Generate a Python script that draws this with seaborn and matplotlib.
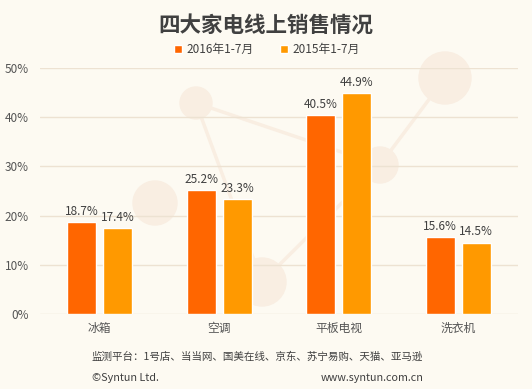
import matplotlib
matplotlib.use('Agg')
import matplotlib.pyplot as plt
import seaborn as sns
import pandas as pd
from matplotlib.patches import Circle
from matplotlib.lines import Line2D

# 数据
categories = ['冰箱', '空调', '平板电视', '洗衣机']
sales_2016 = [18.7, 25.2, 40.5, 15.6]
sales_2015 = [17.4, 23.3, 44.9, 14.5]
series = ['2016年1-7月', '2015年1-7月']
y_ticks = [0, 10, 20, 30, 40, 50]

df = pd.DataFrame({
    'cat': categories * 2,
    'val': sales_2016 + sales_2015,
    'year': [series[0]] * 4 + [series[1]] * 4,
})

sns.set_style('white')
plt.rcParams['font.family'] = ['Noto Sans CJK SC', 'DejaVu Sans']

bg = '#FDFAF2'
fig = plt.figure(figsize=(5.32, 3.89), dpi=100, facecolor=bg)

# 背景装饰（淡色圆点和连线），单位为像素 -> 英寸
deco = '#F9EEE2'
W, H = 532, 389
pts = [(196, 103, 16), (155, 203, 22), (262, 282, 24), (380, 165, 18), (445, 78, 26)]
for a, b in [(0, 3), (0, 2), (2, 3), (3, 4)]:
    x1, y1, _ = pts[a]
    x2, y2, _ = pts[b]
    fig.add_artist(Line2D([x1 / 100, x2 / 100], [(H - y1) / 100, (H - y2) / 100],
                          color=deco, lw=2.5, zorder=0, transform=fig.dpi_scale_trans))
for x, y, r in pts:
    fig.add_artist(Circle((x / 100, (H - y) / 100), r / 100, color=deco, zorder=0,
                          transform=fig.dpi_scale_trans))

ax = fig.add_axes([40 / W, 1 - 314 / H, 478 / W, 246 / H])
ax.set_facecolor('none')

sns.barplot(data=df, x='cat', y='val', hue='year', order=categories,
            hue_order=series, palette=['#FF6600', '#FF9900'],
            width=0.6, gap=0.19, ax=ax, saturation=1, zorder=3)

for c in ax.containers:
    ax.bar_label(c, labels=[f'{v:.1f}%' for v in c.datavalues], padding=3,
                 fontsize=8.5, color='#404040')

ax.set_ylim(0, 50)
ax.set_yticks(y_ticks)
ax.set_yticklabels([f'{t}%' for t in y_ticks])
ax.yaxis.grid(True, color='#EDE2D2', lw=1, zorder=0)
ax.set_axisbelow(True)
for s in ax.spines.values():
    s.set_visible(False)
ax.tick_params(length=0, labelsize=8.5, colors='#555555')
ax.tick_params(axis='y', pad=8)
ax.tick_params(axis='x', pad=6)
ax.set_xlabel('')
ax.set_ylabel('')

ax.legend(loc='center', bbox_to_anchor=(0.475, 1.075), ncol=2, frameon=False,
          fontsize=8.5, handlelength=0.7, handleheight=0.7, handletextpad=0.4,
          columnspacing=2.2, labelcolor='#404040')

fig.text(0.5, 1 - 25 / H, '四大家电线上销售情况', ha='center', va='center',
         fontsize=15.5, fontweight='bold', color='#404040')
fig.text(92 / W, 1 - 357 / H, '监测平台：1号店、当当网、国美在线、京东、苏宁易购、天猫、亚马逊',
         ha='left', va='center', fontsize=7.6, color='#404040')
fig.text(92 / W, 1 - 378 / H, '©Syntun Ltd.', ha='left', va='center',
         fontsize=7.8, color='#404040')
fig.text(424 / W, 1 - 378 / H, 'www.syntun.com.cn', ha='right', va='center',
         fontsize=7.8, color='#404040')

fig.savefig('out.png', dpi=100, facecolor=bg)
